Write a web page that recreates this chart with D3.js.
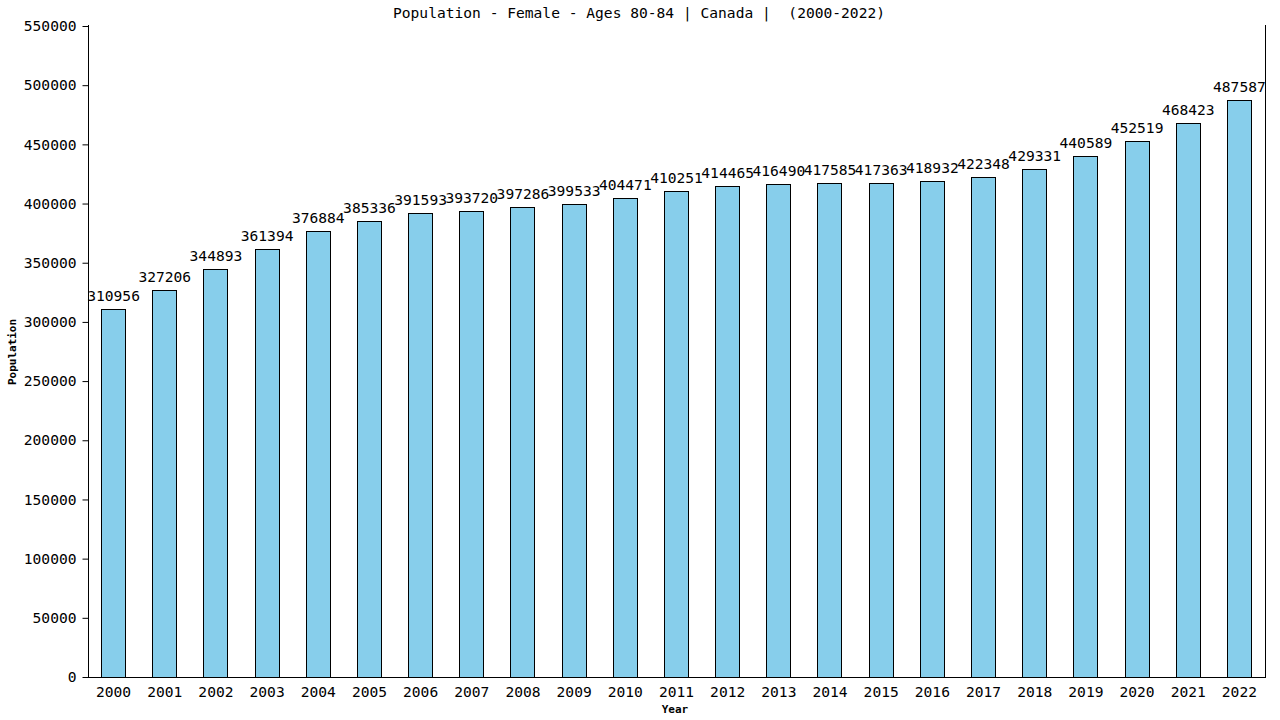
<!DOCTYPE html>
<html>
<head>
<meta charset="utf-8">
<script src="https://cdn.jsdelivr.net/npm/d3@7"></script>
<style>
  html, body { margin: 0; padding: 0; background: #fff; }
  svg { display: block; }
  text { font-family: "DejaVu Sans Mono", monospace; fill: #000; }
</style>
</head>
<body>
<svg id="chart" width="1280" height="720"></svg>
<script>
const years = ["2000","2001","2002","2003","2004","2005","2006","2007","2008","2009","2010","2011","2012","2013","2014","2015","2016","2017","2018","2019","2020","2021","2022"];
const population = [310956,327206,344893,361394,376884,385336,391593,393720,397286,399533,404471,410251,414465,416490,417585,417363,418932,422348,429331,440589,452519,468423,487587];
const yTicks = [0,50000,100000,150000,200000,250000,300000,350000,400000,450000,500000,550000];
const titleText = "Population - Female - Ages 80-84 | Canada |  (2000-2022)";

const svg = d3.select("#chart");
const pLeft = 88, pRight = 1265, pTop = 26, pBottom = 677;

const x = d3.scaleBand().domain(years).range([pLeft, pRight]).paddingInner(0.53).paddingOuter(0.265);
const y = d3.scaleLinear().domain([0, 550000]).range([pBottom, pTop]);

// bars
svg.append("g").selectAll("rect").data(years).join("rect")
  .attr("x", (d) => Math.floor(x(d)) + 0.5)
  .attr("y", (d, i) => Math.round(y(population[i])) + 0.5)
  .attr("width", Math.round(x.bandwidth()))
  .attr("height", (d, i) => pBottom - Math.round(y(population[i])))
  .attr("fill", "#87CEEB")
  .attr("stroke", "#000")
  .attr("stroke-width", 1);

// value labels
svg.append("g").selectAll("text").data(years).join("text")
  .attr("x", (d) => x(d) + x.bandwidth() / 2)
  .attr("y", (d, i) => y(population[i]) - 8)
  .attr("text-anchor", "middle")
  .attr("font-size", "14.6px")
  .text((d, i) => population[i]);

// y axis
const yAxis = d3.axisLeft(y).tickValues(yTicks).tickSize(6).tickPadding(6).tickFormat(d3.format("d"));
const gy = svg.append("g").attr("transform", `translate(${pLeft + 0.5},0)`).call(yAxis);
gy.select(".domain").remove();
gy.selectAll("text").attr("font-size", "14.6px").attr("font-family", "DejaVu Sans Mono, monospace");
gy.append("line").attr("x1", 0).attr("x2", 0).attr("y1", pTop - 1).attr("y2", pBottom).attr("stroke", "#000");

// right line
svg.append("line").attr("x1", pRight + 0.5).attr("x2", pRight + 0.5).attr("y1", pTop - 1).attr("y2", pBottom).attr("stroke", "#000");

// x axis
const xAxis = d3.axisBottom(x).tickSize(0).tickPadding(9);
const gx = svg.append("g").attr("transform", `translate(0,${pBottom + 0.5})`).call(xAxis);
gx.select(".domain").remove();
gx.selectAll("text").attr("font-size", "14.6px").attr("font-family", "DejaVu Sans Mono, monospace");
gx.append("line").attr("x1", pLeft).attr("x2", pRight + 1).attr("y1", 0).attr("y2", 0).attr("stroke", "#000");

// title
svg.append("text").attr("x", 639).attr("y", 18).attr("text-anchor", "middle")
  .attr("font-size", "14.6px").style("white-space", "pre").attr("xml:space", "preserve").text(titleText);

// axis titles
svg.append("text").attr("x", 675).attr("y", 713).attr("text-anchor", "middle")
  .attr("font-size", "11px").attr("font-weight", "bold").text("Year");
svg.append("text").attr("transform", "translate(16,352) rotate(-90)").attr("text-anchor", "middle")
  .attr("font-size", "11px").attr("font-weight", "bold").text("Population");
</script>
</body>
</html>
